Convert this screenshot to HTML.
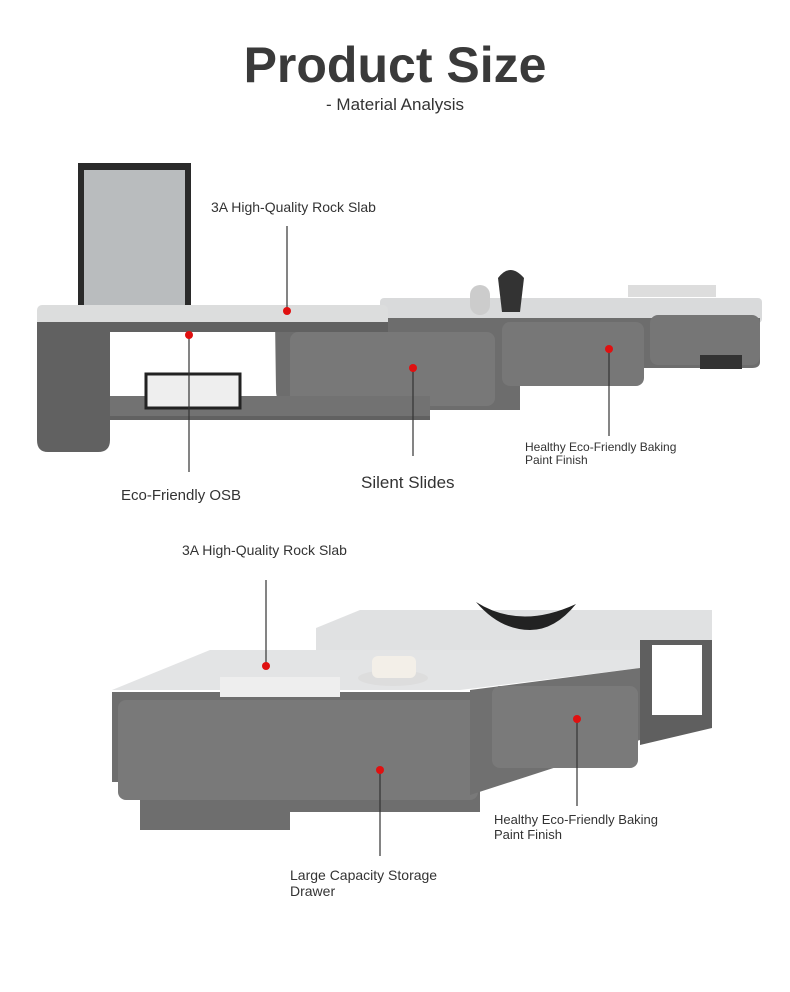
<!DOCTYPE html>
<html><head><meta charset="utf-8"><style>
html,body{margin:0;padding:0;background:#fff;}
body{width:790px;height:992px;position:relative;overflow:hidden;font-family:"Liberation Sans",sans-serif;}
</style></head><body>
<svg width="790" height="992" viewBox="0 0 790 992" xmlns="http://www.w3.org/2000/svg" style="position:absolute;left:0;top:0">
<text x="395" y="82" text-anchor="middle" font-family="Liberation Sans" font-weight="bold" font-size="50" fill="#3a3a3a">Product Size</text>
<text x="395" y="110" text-anchor="middle" font-family="Liberation Sans" font-size="17" fill="#333">- Material Analysis</text>

<!-- TV cabinet -->
<!-- frame -->
<rect x="78" y="163" width="113" height="158" fill="#2a2a2a"/>
<rect x="84" y="170" width="101" height="145" fill="#b9bcbe"/>
<!-- right unit -->
<rect x="380" y="298" width="382" height="25" rx="4" fill="#d9dadb"/>
<path d="M275 318 H760 V362 Q760 368 752 368 H520 V410 H300 Q276 410 276 390 Z" fill="#6d6d6d"/>
<rect x="290" y="332" width="205" height="74" rx="8" fill="#787878"/>
<rect x="502" y="322" width="142" height="64" rx="8" fill="#777"/>
<rect x="650" y="315" width="110" height="50" rx="8" fill="#767676"/>
<rect x="700" y="355" width="42" height="14" fill="#333"/>
<!-- left unit -->
<rect x="37" y="305" width="351" height="25" rx="5" fill="#dcdddd"/>
<path d="M37 322 H388 V332 H110 V398 H300 V408 H430 V420 H110 V440 Q110 452 98 452 H48 Q37 452 37 440 Z" fill="#616161"/>
<rect x="110" y="332" width="165" height="68" fill="#ffffff"/>
<rect x="110" y="396" width="320" height="20" fill="#727272"/>
<rect x="146" y="374" width="94" height="34" fill="#eee" stroke="#222" stroke-width="3"/>
<rect x="470" y="285" width="20" height="30" rx="10" fill="#ccc"/>
<path d="M498 278 Q510 262 524 278 L520 312 H502 Z" fill="#333"/>
<rect x="628" y="285" width="88" height="12" fill="#ddd"/>
<!-- coffee table -->
<path d="M316 628 L360 610 H712 V640 L640 660 H316 Z" fill="#e0e1e2"/>
<path d="M640 640 H712 V728 L640 745 Z" fill="#5f5f5f"/>
<rect x="652" y="645" width="50" height="70" fill="#fff"/>
<path d="M112 690 L210 650 H640 V668 L460 690 Z" fill="#e3e4e5"/>
<path d="M112 692 H470 Q480 692 480 700 V812 H290 V830 H140 V782 H112 Z" fill="#6e6e6e"/>
<rect x="118" y="700" width="360" height="100" rx="8" fill="#797979"/>
<path d="M470 690 L640 668 V740 L470 795 Z" fill="#707070"/>
<rect x="492" y="686" width="146" height="82" rx="8" fill="#7a7a7a"/>
<path d="M476 602 Q520 630 576 604 Q555 630 530 630 Q500 630 476 602Z" fill="#222"/>
<rect x="220" y="677" width="120" height="20" fill="#eee"/>
<ellipse cx="393" cy="678" rx="35" ry="8" fill="#ddd"/>
<rect x="372" y="656" width="44" height="22" rx="6" fill="#f3efe8"/>

<!-- callouts -->
<g stroke="#333" stroke-width="1.2">
<line x1="287" y1="226" x2="287" y2="311"/>
<line x1="189" y1="335" x2="189" y2="472"/>
<line x1="413" y1="368" x2="413" y2="456"/>
<line x1="609" y1="349" x2="609" y2="436"/>
<line x1="266" y1="580" x2="266" y2="666"/>
<line x1="577" y1="719" x2="577" y2="806"/>
<line x1="380" y1="770" x2="380" y2="856"/>
</g>
<g fill="#e01010">
<circle cx="287" cy="311" r="4"/><circle cx="189" cy="335" r="4"/><circle cx="413" cy="368" r="4"/><circle cx="609" cy="349" r="4"/>
<circle cx="266" cy="666" r="4"/><circle cx="577" cy="719" r="4"/><circle cx="380" cy="770" r="4"/>
</g>
<g font-family="Liberation Sans" fill="#333">
<text x="211" y="212" font-size="14">3A High-Quality Rock Slab</text>
<text x="121" y="500" font-size="15">Eco-Friendly OSB</text>
<text x="361" y="488" font-size="17">Silent Slides</text>
<text x="525" y="451" font-size="12">Healthy Eco-Friendly Baking</text>
<text x="525" y="464" font-size="12">Paint Finish</text>
<text x="182" y="555" font-size="14">3A High-Quality Rock Slab</text>
<text x="494" y="824" font-size="13">Healthy Eco-Friendly Baking</text>
<text x="494" y="839" font-size="13">Paint Finish</text>
<text x="290" y="880" font-size="14">Large Capacity Storage</text>
<text x="290" y="896" font-size="14">Drawer</text>
</g>
</svg>
</body></html>
